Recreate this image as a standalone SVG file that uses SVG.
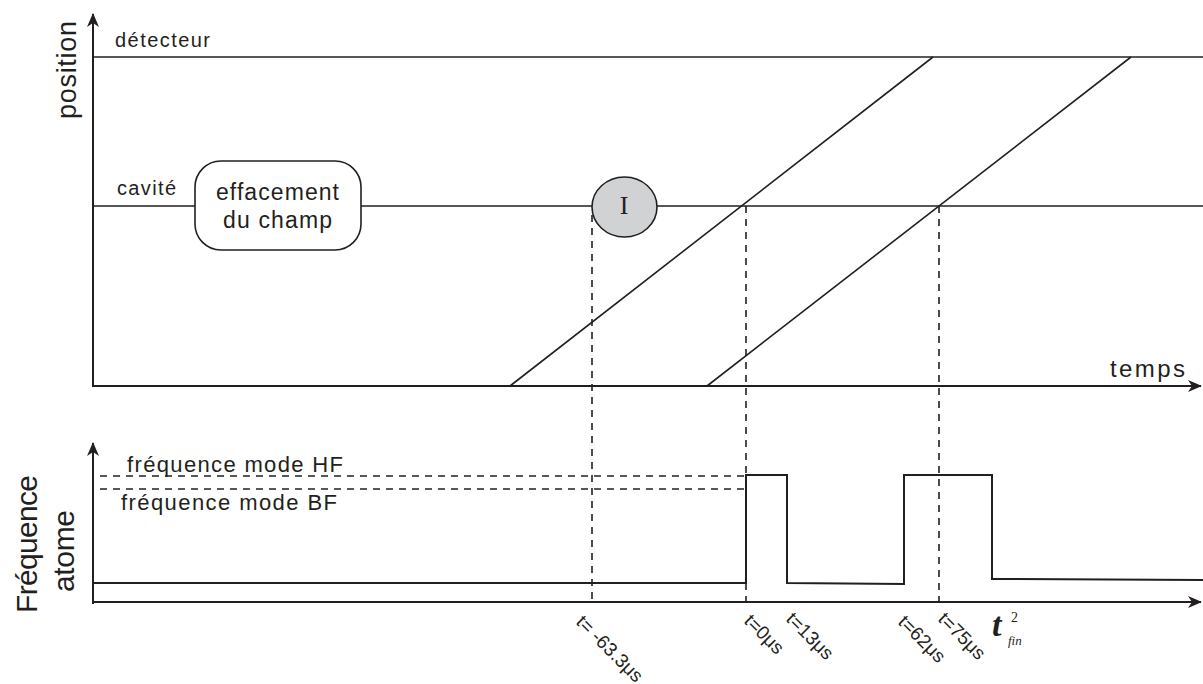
<svg xmlns="http://www.w3.org/2000/svg" width="1203" height="684" viewBox="0 0 1203 684">
<style>
.ln{stroke:#231f20;stroke-width:1.6;fill:none}
.ax{stroke:#231f20;stroke-width:2;fill:none}
.ds{stroke:#231f20;stroke-width:1.6;fill:none;stroke-dasharray:7 6}
.t{font-family:"Liberation Sans",Arial,sans-serif;fill:#231f20}
.s{font-family:"Liberation Serif","Times New Roman",serif;fill:#231f20}
</style>
<defs>
<marker id="arr" viewBox="0 0 14 12" refX="13" refY="6" markerWidth="14" markerHeight="12" markerUnits="userSpaceOnUse" orient="auto">
<path d="M0,0 L14,6 L0,12 L4,6 z" fill="#231f20"/>
</marker>
</defs>
<rect width="1203" height="684" fill="#fff"/>
<g id="connectors">
<line class="ax" x1="93" y1="387" x2="93" y2="14" marker-end="url(#arr)"/>
<line class="ax" x1="92" y1="386" x2="1201" y2="386" marker-end="url(#arr)"/>
<line class="ln" x1="94" y1="57" x2="1203" y2="57"/>
<line class="ln" x1="94" y1="206" x2="195" y2="206"/>
<line class="ln" x1="361" y1="206" x2="592" y2="206"/>
<line class="ln" x1="657" y1="206" x2="1203" y2="206"/>
<line class="ln" x1="510" y1="386" x2="933" y2="57"/>
<line class="ln" x1="707" y1="386" x2="1131" y2="57"/>
<line class="ds" x1="592" y1="215" x2="592" y2="605"/>
<line class="ds" x1="746" y1="206" x2="746" y2="605"/>
<line class="ds" x1="939" y1="206" x2="939" y2="605"/>
<line class="ax" x1="93" y1="604" x2="93" y2="443" marker-end="url(#arr)"/>
<line class="ax" x1="92" y1="602" x2="1201" y2="602" marker-end="url(#arr)"/>
<line class="ds" x1="100" y1="476" x2="745" y2="476"/>
<line class="ds" x1="100" y1="489" x2="745" y2="489"/>
<polyline class="ax" points="93,583 746,583 746,475 787,475 787,583 904,584 904,475 992,475 992,579 1203,580"/>
</g>
<g id="axis-labels">
<text class="t" font-size="27" transform="translate(76,119) rotate(-90)" textLength="98" lengthAdjust="spacing">position</text>
<text class="t" font-size="30" transform="translate(37,613) rotate(-90)" textLength="138" lengthAdjust="spacing">Fréquence</text>
<text class="t" font-size="30" transform="translate(74,592) rotate(-90)" textLength="82" lengthAdjust="spacing">atome</text>
<text class="t" x="115" y="47" font-size="20" textLength="95" lengthAdjust="spacing">détecteur</text>
<text class="t" x="117" y="195" font-size="20" textLength="59" lengthAdjust="spacing">cavité</text>
<text class="t" x="1110" y="377" font-size="24" textLength="75" lengthAdjust="spacing">temps</text>
<text class="t" x="127" y="472" font-size="22" textLength="216" lengthAdjust="spacing">fréquence mode HF</text>
<text class="t" x="121" y="510" font-size="22" textLength="216" lengthAdjust="spacing">fréquence mode BF</text>
</g>
<g id="node-effacement">
<rect x="195" y="161" width="166" height="89" rx="26" ry="26" class="ln"/>
<text class="t" x="216" y="200" font-size="23" textLength="123" lengthAdjust="spacing">effacement</text>
<text class="t" x="223" y="228" font-size="23" textLength="109" lengthAdjust="spacing">du champ</text>
</g>
<g id="node-I">
<ellipse cx="624.5" cy="207" rx="32.5" ry="30" class="ln" style="fill:#d1d2d4"/>
<text class="s" x="624" y="214" font-size="26" text-anchor="middle">I</text>
</g>
<g id="tick-labels">
<text class="t" font-size="19" transform="translate(575,623) rotate(45)">t= -63.3μs</text>
<text class="t" font-size="19" transform="translate(743,622) rotate(45)">t=0μs</text>
<text class="t" font-size="19" transform="translate(785,620) rotate(45)">t=13μs</text>
<text class="t" font-size="19" transform="translate(897,623) rotate(45)">t=62μs</text>
<text class="t" font-size="19" transform="translate(937,620) rotate(45)">t=75μs</text>
<text class="s" x="992" y="636" font-size="34" font-style="italic" font-weight="bold">t</text>
<text class="s" x="1011" y="622" font-size="14">2</text>
<text class="s" x="1008" y="645" font-size="13" font-style="italic">fin</text>
</g>
</svg>
